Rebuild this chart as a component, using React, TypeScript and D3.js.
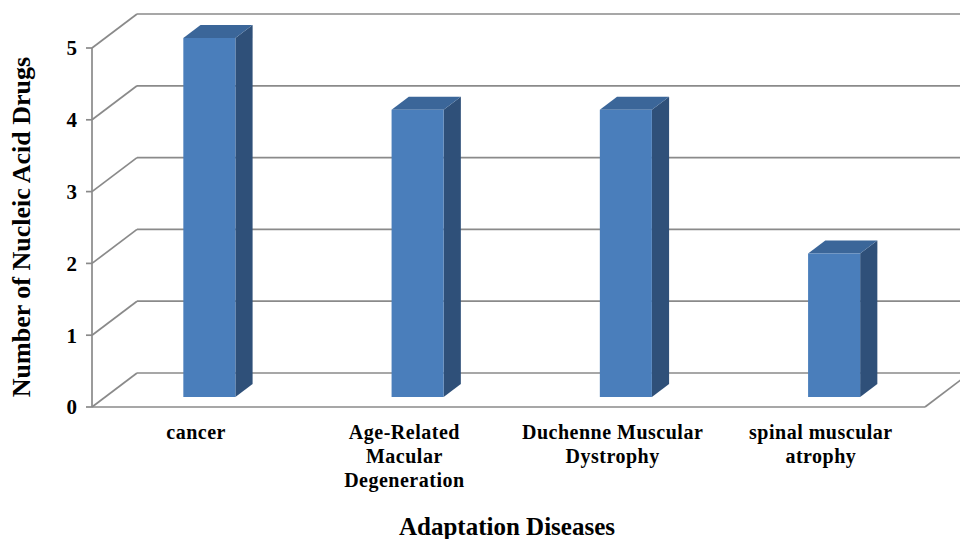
import React from "react";
import * as d3 from "d3";

// Disease categories, their drug counts and the wrapped label lines
const categories = [
  "cancer",
  "Age-Related Macular Degeneration",
  "Duchenne Muscular Dystrophy",
  "spinal muscular atrophy",
];
const drugCounts = [5, 4, 4, 2];
const labelLines = [
  ["cancer"],
  ["Age-Related", "Macular", "Degeneration"],
  ["Duchenne Muscular", "Dystrophy"],
  ["spinal muscular", "atrophy"],
];
const yTicks = [0, 1, 2, 3, 4, 5];

const W = 960;
const H = 539;

// Front plane of the 3-D box
const frontLeft = 92;
const frontRight = 925;
const floorY = 407;
const topY = 48;
// Full depth offset of the box
const depthX = 45;
const depthY = -34;
// Bar depth occupies this slice of the box depth
const barD0 = 10 / 34;
const barD1 = 23 / 34;
const barFrac = 0.25;

const font = "'Liberation Serif', 'Times New Roman', serif";
const gridColor = "#8a8a8a";

export default function App() {
  const x = d3.scaleBand<string>().domain(categories).range([frontLeft, frontRight]).padding(0);
  const y = d3.scaleLinear().domain([0, 5]).range([floorY, topY]);

  const proj = (px: number, py: number, d: number): [number, number] => [
    px + depthX * d,
    py + depthY * d,
  ];
  const poly = (pts: [number, number][]) => pts.map((p) => p.join(",")).join(" ");

  const bw = x.bandwidth() * barFrac;

  return (
    <svg width={W} height={H} style={{ position: "absolute", left: 0, top: 0, background: "#fff" }}>
      {/* left wall diagonals and back-wall gridlines */}
      {yTicks.map((t) => {
        const a = proj(frontLeft, y(t), 0);
        const b = proj(frontLeft, y(t), 1);
        return (
          <g key={"g" + t}>
            <line x1={a[0]} y1={a[1]} x2={b[0]} y2={b[1]} stroke={gridColor} strokeWidth={1.7} />
            <line x1={b[0]} y1={b[1]} x2={frontRight + depthX} y2={b[1]} stroke={gridColor} strokeWidth={1.7} />
          </g>
        );
      })}
      {/* floor front edge and right edge */}
      <line x1={frontLeft} y1={floorY} x2={frontRight} y2={floorY} stroke={gridColor} strokeWidth={1.7} />
      {(() => {
        const b = proj(frontRight, floorY, 1);
        return <line x1={frontRight} y1={floorY} x2={b[0]} y2={b[1]} stroke={gridColor} strokeWidth={1.7} />;
      })()}
      {/* vertical axis with tick marks */}
      <line x1={frontLeft} y1={y(5)} x2={frontLeft} y2={floorY} stroke={gridColor} strokeWidth={1.7} />
      {yTicks.map((t) => (
        <g key={"t" + t}>
          <line x1={frontLeft - 6} y1={y(t)} x2={frontLeft} y2={y(t)} stroke={gridColor} strokeWidth={1.7} />
          <text
            x={frontLeft - 15}
            y={y(t)}
            dy="0.35em"
            textAnchor="end"
            fontFamily={font}
            fontWeight="bold"
            fontSize={21}
            fill="#000"
          >
            {t}
          </text>
        </g>
      ))}

      {/* 3-D bars */}
      {categories.map((c, i) => {
        const cx = (x(c) as number) + x.bandwidth() / 2;
        const xl = cx - bw / 2;
        const xr = cx + bw / 2;
        const yt = y(drugCounts[i]);
        const yb = y(0);
        const fl = proj(xl, yt, barD0);
        const fr = proj(xr, yt, barD0);
        const frb = proj(xr, yb, barD0);
        const flb = proj(xl, yb, barD0);
        const bl = proj(xl, yt, barD1);
        const br = proj(xr, yt, barD1);
        const brb = proj(xr, yb, barD1);
        return (
          <g key={c}>
            <polygon points={poly([fr, br, brb, frb])} fill="#2f5079" />
            <polygon points={poly([fl, fr, br, bl])} fill="#3b6699" />
            <polygon points={poly([fl, fr, frb, flb])} fill="#4a7ebb" />
          </g>
        );
      })}

      {/* category labels */}
      {categories.map((c, i) => {
        const cx = (x(c) as number) + x.bandwidth() / 2;
        return (
          <text
            key={"l" + c}
            textAnchor="middle"
            fontFamily={font}
            fontWeight="bold"
            fontSize={20}
            letterSpacing={0.5}
            fill="#000"
          >
            {labelLines[i].map((ln, j) => (
              <tspan key={j} x={cx} y={439 + j * 24}>
                {ln}
              </tspan>
            ))}
          </text>
        );
      })}

      {/* axis titles */}
      <text
        transform={`translate(30,${227}) rotate(-90)`}
        textAnchor="middle"
        fontFamily={font}
        fontWeight="bold"
        fontSize={26}
        fill="#000"
      >
        Number of Nucleic Acid Drugs
      </text>
      <text x={507} y={535} textAnchor="middle" fontFamily={font} fontWeight="bold" fontSize={25} fill="#000">
        Adaptation Diseases
      </text>
    </svg>
  );
}
